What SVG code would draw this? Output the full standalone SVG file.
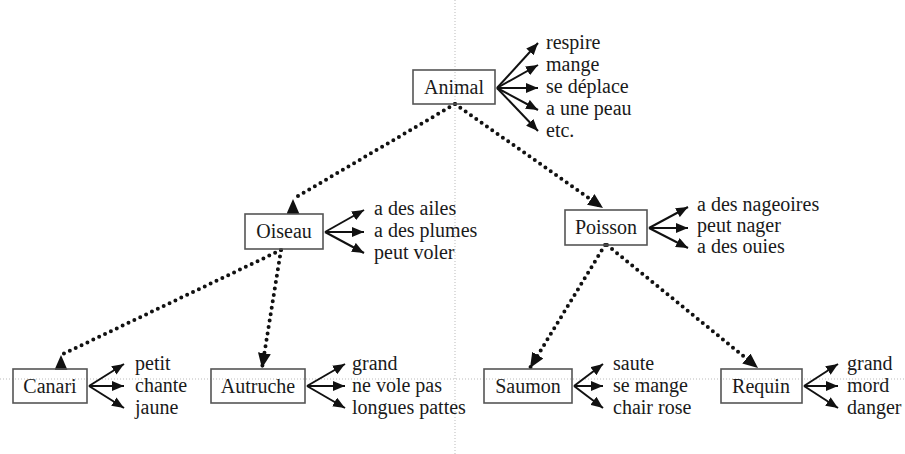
<svg xmlns="http://www.w3.org/2000/svg" width="905" height="454" viewBox="0 0 905 454">
<style>
  text { font-family: "Liberation Serif", "Times New Roman", serif; font-size: 20px; fill: #1a1a1a; }
  .box rect { fill: none; stroke: #555; stroke-width: 1.6; }
  .box text.lbl { text-anchor: middle; }
  .solid { stroke: #111; stroke-width: 2; fill: none; marker-end: url(#ah); }
  .dot { stroke: #111; stroke-width: 4; stroke-linecap: round; stroke-dasharray: 0 6.5; fill: none; }
  .guide { stroke: #bbb; stroke-width: 1; stroke-dasharray: 1 2; fill: none; }
</style>
<defs>
  <marker id="ah" viewBox="0 0 12 10" refX="12" refY="5" markerWidth="12" markerHeight="10" markerUnits="userSpaceOnUse" orient="auto">
    <path d="M0,0 L12,5 L0,10 z" fill="#111"/>
  </marker>
  <marker id="big" viewBox="0 0 15 13" refX="15" refY="6.5" markerWidth="15" markerHeight="13" markerUnits="userSpaceOnUse" orient="auto">
    <path d="M0,0 L15,6.5 L0,13 z" fill="#111"/>
  </marker>
  <marker id="up" viewBox="0 0 15 13" refX="15" refY="6.5" markerWidth="15" markerHeight="13" markerUnits="userSpaceOnUse" orient="-90">
    <path d="M0,0 L15,6.5 L0,13 z" fill="#111"/>
  </marker>
</defs>

<g id="guides">
  <line class="guide" x1="455" y1="0" x2="455" y2="454"/>
  <line class="guide" x1="0" y1="379" x2="905" y2="379"/>
</g>

<g id="connectors">
  <line class="dot" x1="455" y1="104" x2="293" y2="199" marker-end="url(#up)"/>
  <line class="dot" x1="455" y1="104" x2="603" y2="208" marker-end="url(#big)"/>
  <line class="dot" x1="281" y1="250" x2="61" y2="355" marker-end="url(#up)"/>
  <line class="dot" x1="281" y1="250" x2="262" y2="368" marker-end="url(#big)"/>
  <line class="dot" x1="605" y1="245" x2="530" y2="368" marker-end="url(#big)"/>
  <line class="dot" x1="607" y1="245" x2="758" y2="368" marker-end="url(#big)"/>
</g>

<g id="animal" class="box">
  <rect x="413" y="70" width="82" height="34"/>
  <text class="lbl" x="454" y="94">Animal</text>
  <line class="solid" x1="497" y1="88" x2="538" y2="43"/>
  <line class="solid" x1="497" y1="88" x2="538" y2="65"/>
  <line class="solid" x1="497" y1="88" x2="538" y2="88"/>
  <line class="solid" x1="497" y1="88" x2="538" y2="110"/>
  <line class="solid" x1="497" y1="88" x2="538" y2="131"/>
  <text x="546" y="49">respire</text>
  <text x="546" y="71">mange</text>
  <text x="546" y="93">se déplace</text>
  <text x="546" y="115">a une peau</text>
  <text x="546" y="137">etc.</text>
</g>

<g id="oiseau" class="box">
  <rect x="245" y="214" width="78" height="35"/>
  <text class="lbl" x="284" y="238">Oiseau</text>
  <line class="solid" x1="325" y1="232" x2="364" y2="210"/>
  <line class="solid" x1="325" y1="232" x2="364" y2="232"/>
  <line class="solid" x1="325" y1="232" x2="364" y2="253"/>
  <text x="374" y="215">a des ailes</text>
  <text x="374" y="237">a des plumes</text>
  <text x="374" y="259">peut voler</text>
</g>

<g id="poisson" class="box">
  <rect x="565" y="210" width="82" height="35"/>
  <text class="lbl" x="606" y="234">Poisson</text>
  <line class="solid" x1="649" y1="228" x2="688" y2="207"/>
  <line class="solid" x1="649" y1="228" x2="688" y2="228"/>
  <line class="solid" x1="649" y1="228" x2="688" y2="248"/>
  <text x="697" y="211">a des nageoires</text>
  <text x="697" y="232">peut nager</text>
  <text x="697" y="253">a des ouies</text>
</g>

<g id="canari" class="box">
  <rect x="13" y="369" width="74" height="34"/>
  <text class="lbl" x="50" y="393">Canari</text>
  <line class="solid" x1="89" y1="386" x2="124" y2="364"/>
  <line class="solid" x1="89" y1="386" x2="124" y2="386"/>
  <line class="solid" x1="89" y1="386" x2="124" y2="408"/>
  <text x="135" y="370">petit</text>
  <text x="135" y="392">chante</text>
  <text x="135" y="414">jaune</text>
</g>

<g id="autruche" class="box">
  <rect x="211" y="369" width="94" height="34"/>
  <text class="lbl" x="258" y="393">Autruche</text>
  <line class="solid" x1="307" y1="386" x2="345" y2="364"/>
  <line class="solid" x1="307" y1="386" x2="345" y2="386"/>
  <line class="solid" x1="307" y1="386" x2="345" y2="408"/>
  <text x="352" y="370">grand</text>
  <text x="352" y="392">ne vole pas</text>
  <text x="352" y="414">longues pattes</text>
</g>

<g id="saumon" class="box">
  <rect x="484" y="369" width="88" height="34"/>
  <text class="lbl" x="528" y="393">Saumon</text>
  <line class="solid" x1="574" y1="386" x2="603" y2="364"/>
  <line class="solid" x1="574" y1="386" x2="603" y2="386"/>
  <line class="solid" x1="574" y1="386" x2="603" y2="408"/>
  <text x="613" y="370">saute</text>
  <text x="613" y="392">se mange</text>
  <text x="613" y="414">chair rose</text>
</g>

<g id="requin" class="box">
  <rect x="721" y="369" width="81" height="34"/>
  <text class="lbl" x="761" y="393">Requin</text>
  <line class="solid" x1="804" y1="386" x2="838" y2="364"/>
  <line class="solid" x1="804" y1="386" x2="838" y2="386"/>
  <line class="solid" x1="804" y1="386" x2="838" y2="408"/>
  <text x="847" y="370">grand</text>
  <text x="847" y="392">mord</text>
  <text x="847" y="414">danger</text>
</g>
</svg>
